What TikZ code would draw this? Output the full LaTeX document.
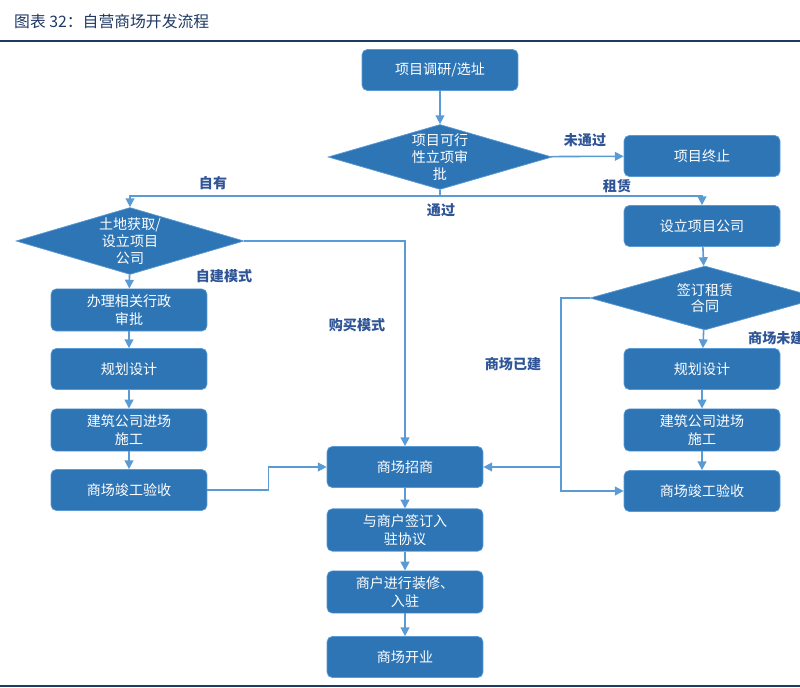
\documentclass[tikz,border=0pt]{standalone}
\usepackage{fontspec}
\newfontfamily\cjk{Noto Sans CJK SC}
\usetikzlibrary{shapes.geometric,arrows.meta}
\definecolor{boxblue}{HTML}{2E75B6}
\definecolor{lineblue}{HTML}{5B9BD5}
\definecolor{labelblue}{HTML}{2F5597}
\definecolor{titleblue}{HTML}{1F3864}
\begin{document}
\begin{tikzpicture}[x=0.02cm,y=-0.02cm,
        % boxes of the flow
        stage/.style={rectangle, rounded corners=3pt, fill=boxblue, draw=lineblue, text=white,
          minimum width=3.12cm, minimum height=0.82cm, align=center, font=\cjk\fontsize{8}{10}\selectfont},
        % decisions
        choice/.style={diamond, aspect=3.4, fill=boxblue, draw=lineblue, text=white, inner sep=0pt,
          align=center, font=\cjk\fontsize{8}{9.5}\selectfont},
        % branch labels
        tag/.style={text=labelblue, font=\cjk\bfseries\fontsize{8}{10}\selectfont},
        flow/.style={draw=lineblue, line width=0.9pt, -{Triangle[length=5pt,width=5pt]}}
    ]
        \useasboundingbox (0,0) rectangle (800,688);
        \clip (0,0) rectangle (800,688);
        % --- title ---
        \node[anchor=west, text=titleblue, font=\cjk\fontsize{9}{11}\selectfont] (title) at (8,22) {图表 32：自营商场开发流程};
        \draw[titleblue, line width=1.2pt] (0,41) -- (800,41);
        \draw[titleblue, line width=1.2pt] (0,686) -- (800,686);

        % --- main column ---
        \node[stage] (survey) at (440,70) {项目调研/选址};
        \node[choice, minimum width=4.48cm, minimum height=1.3cm] (approve) at (440,157) {项目可行\\性立项审\\批};
        \node[stage] (stop) at (702,156) {项目终止};
        \node[stage] (invite) at (405,467) {商场招商};
        \node[stage] (sign) at (405,530) {与商户签订入\\驻协议};
        \node[stage] (decor) at (405,592) {商户进行装修、\\入驻};
        \node[stage] (open) at (405,657) {商场开业};

        % --- own land ---
        \node[choice, minimum width=4.56cm, minimum height=1.34cm] (land) at (130,241) {土地获取/\\设立项目\\公司};
        \node[stage] (admin) at (129,310) {办理相关行政\\审批};
        \node[stage] (planL) at (129,369) {规划设计};
        \node[stage] (buildL) at (129,430) {建筑公司进场\\施工};
        \node[stage] (checkL) at (129,490) {商场竣工验收};

        % --- lease ---
        \node[stage] (company) at (702,226) {设立项目公司};
        \node[choice, minimum width=4.6cm, minimum height=1.28cm] (lease) at (705,298) {签订租赁\\合同};
        \node[stage] (planR) at (702,369) {规划设计};
        \node[stage] (buildR) at (702,430) {建筑公司进场\\施工};
        \node[stage] (checkR) at (702,491) {商场竣工验收};

        \coordinate (split) at (440,196);
        \coordinate (bend) at (561,298);

        % --- connectors ---
        \draw[flow] (survey) -- (approve);
        \draw[flow] (approve) -- (stop);
        \draw[lineblue, line width=0.9pt] (approve.south) -- (split);
        \draw[flow] (split) -| (land.north);
        \draw[flow] (split) -| (company.north);
        \draw[flow] (land.east) -| (invite.north);
        \draw[flow] (land) -- (admin);
        \draw[flow] (admin) -- (planL);
        \draw[flow] (planL) -- (buildL);
        \draw[flow] (buildL) -- (checkL);
        \draw[flow] (checkL.east) -- ++(61,0) |- (invite.west);
        \draw[flow] (company) -- (lease);
        \draw[flow] (lease) -- (planR);
        \draw[flow] (planR) -- (buildR);
        \draw[flow] (buildR) -- (checkR);
        \draw[flow] (lease.west) -- (bend) |- (checkR.west);
        \draw[flow] (bend |- invite.east) -- (invite.east);
        \draw[flow] (invite) -- (sign);
        \draw[flow] (sign) -- (decor);
        \draw[flow] (decor) -- (open);

        % --- branch labels ---
        \node[tag] at (585,140) {未通过};
        \node[tag] at (441,210) {通过};
        \node[tag] at (213,183) {自有};
        \node[tag] at (617,186) {租赁};
        \node[tag] at (224,276) {自建模式};
        \node[tag] at (357,325) {购买模式};
        \node[tag] at (513,364) {商场已建};
        \node[tag, anchor=west] at (742,338) {商场未建};
    \end{tikzpicture}
\end{document}
